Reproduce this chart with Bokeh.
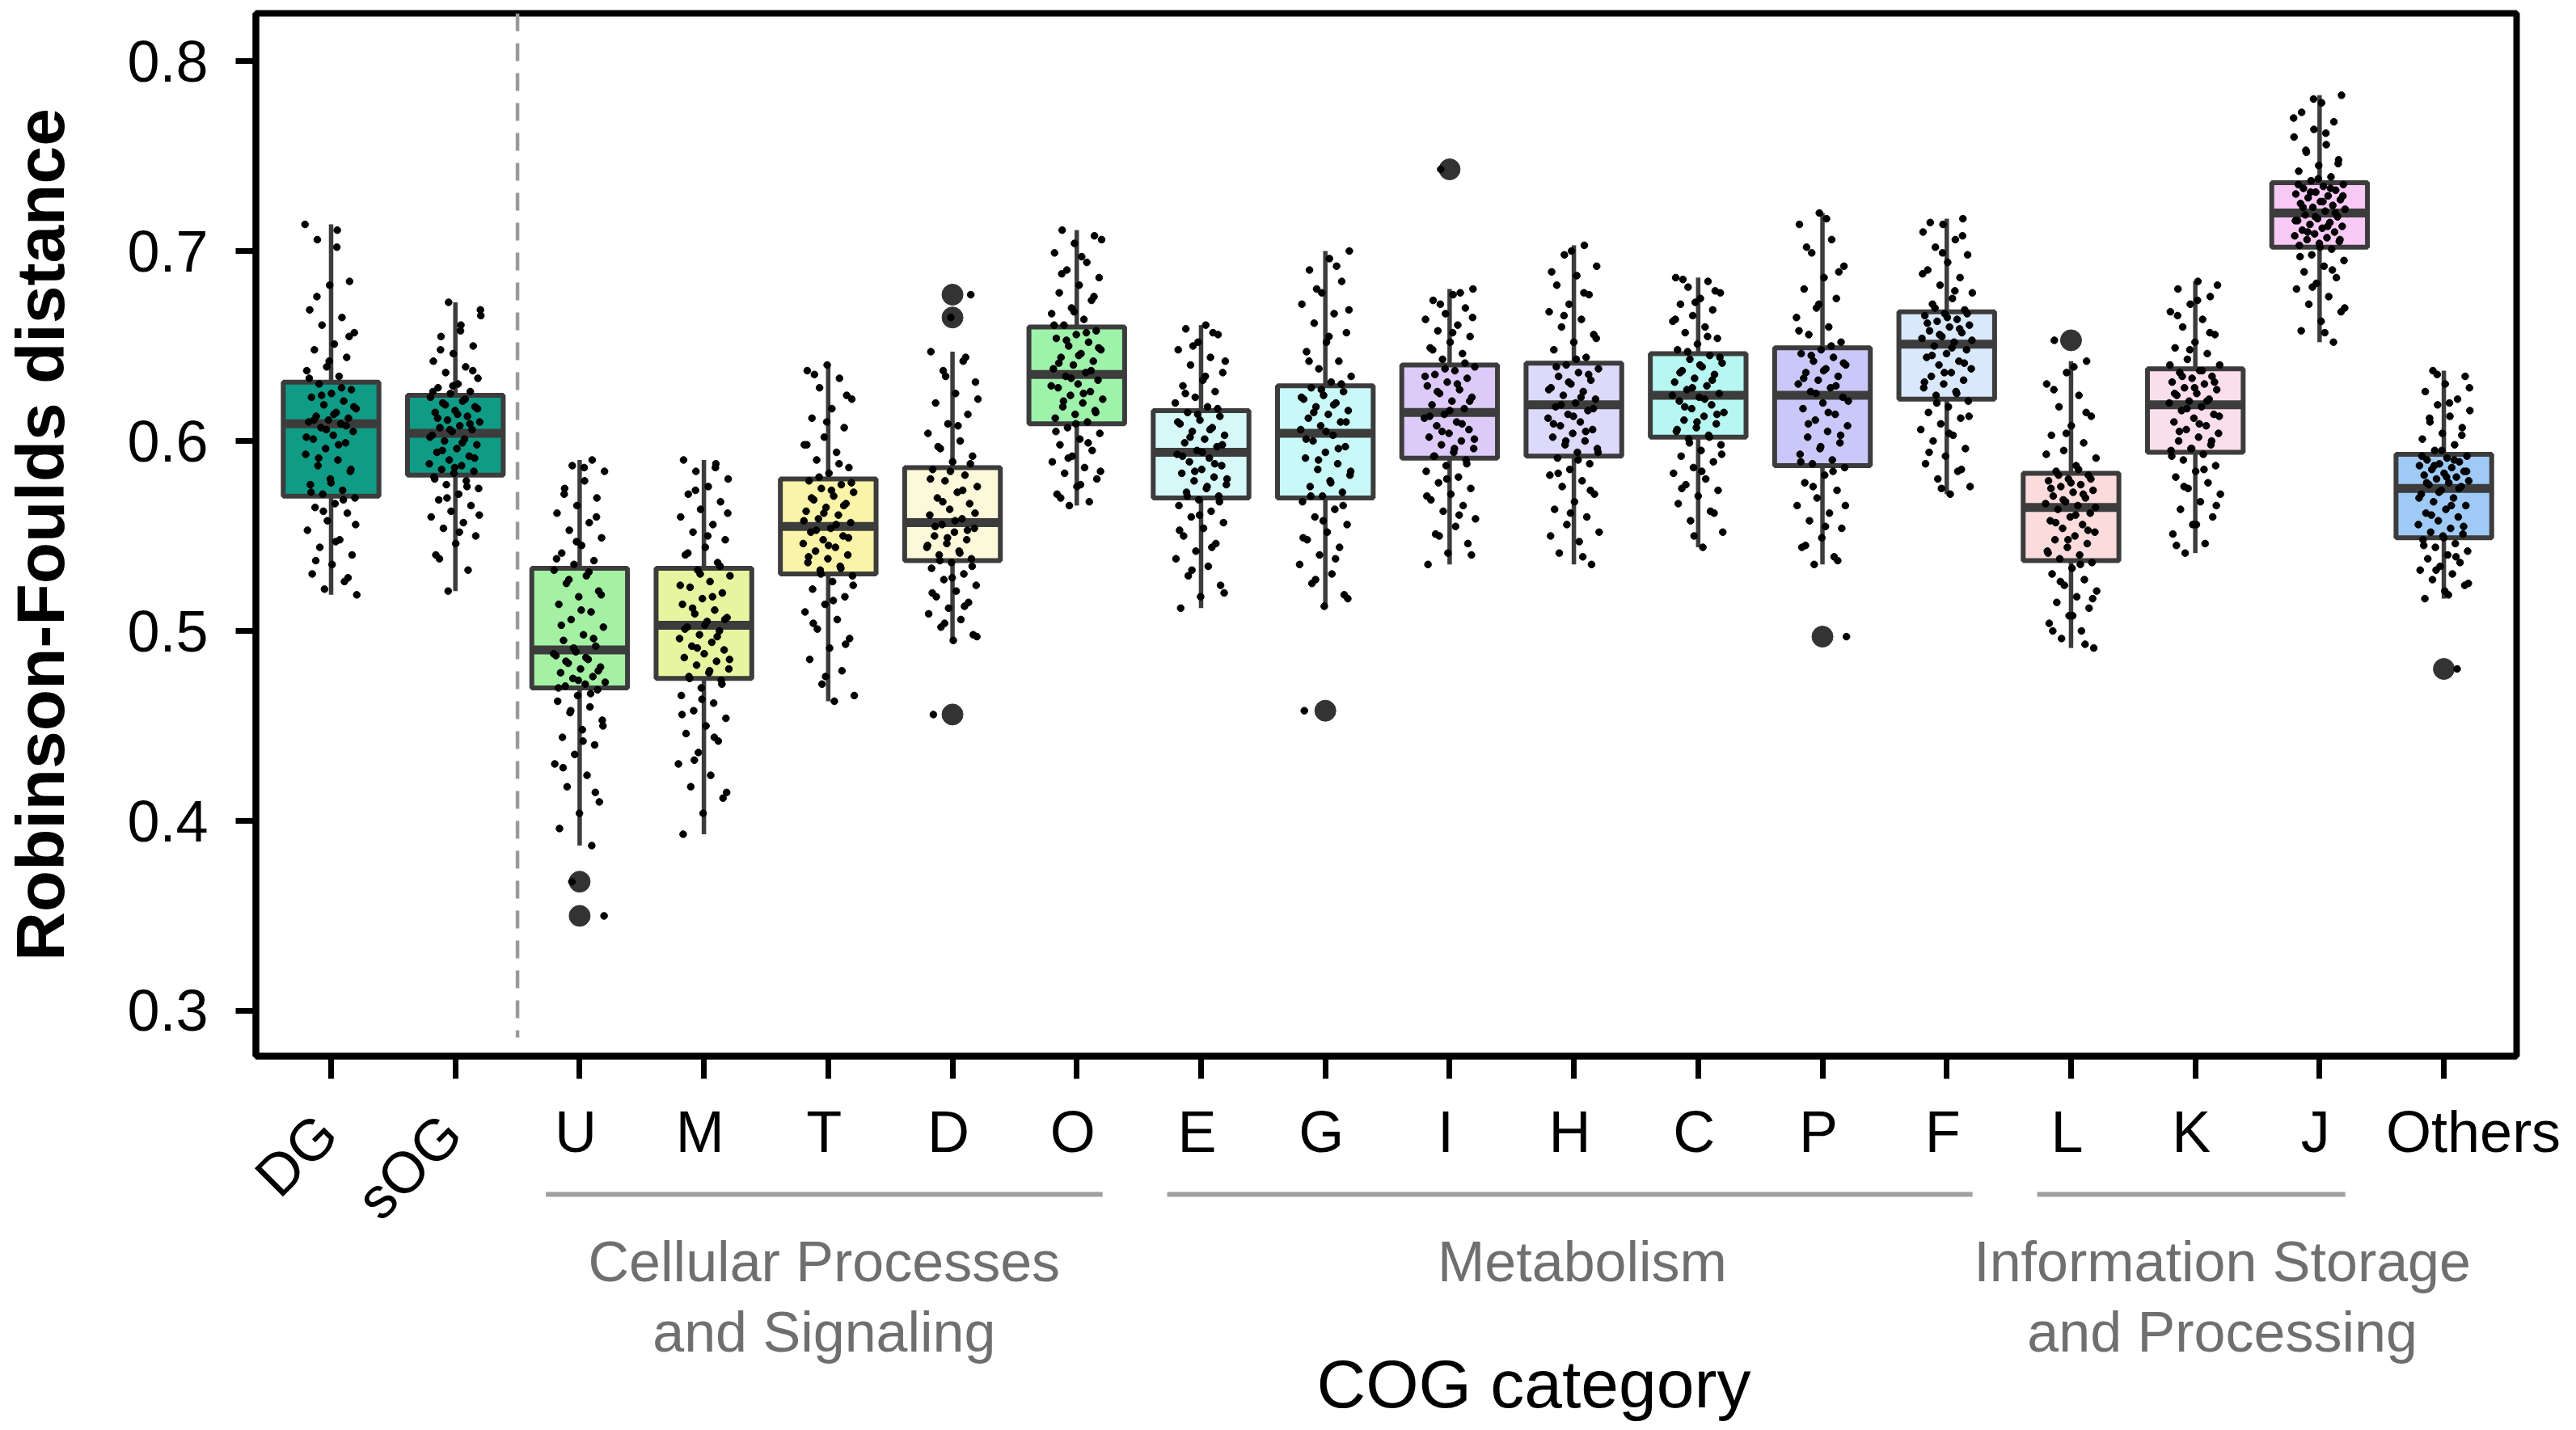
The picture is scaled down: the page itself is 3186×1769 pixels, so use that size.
import numpy as np
from bokeh.plotting import figure
from bokeh.layouts import column
from bokeh.models import FixedTicker, Range1d
from bokeh.core.properties import value
from bokeh.embed import file_html
from bokeh.resources import INLINE

# ---------------- data ----------------
categories = ["DG", "sOG", "U", "M", "T", "D", "O", "E", "G", "I", "H", "C",
              "P", "F", "L", "K", "J", "Others"]
colors = ["#0f9b85", "#0f9b85", "#a4f1a4", "#e7f5a1", "#faf4a8", "#fcf9da",
          "#9ef2aa", "#d6f8f8", "#c9f8f8", "#ddcaf9", "#dcd9fb", "#b6f7f2",
          "#cac7f9", "#d9e8fb", "#fbdbdb", "#fbdeeb", "#f9c9f6", "#9ecaf5"]

whisk_lo = [0.519, 0.521, 0.387, 0.393, 0.463, 0.495, 0.566, 0.512, 0.513,
            0.535, 0.535, 0.544, 0.535, 0.572, 0.491, 0.541, 0.652, 0.517]
q1 = [0.571, 0.582, 0.470, 0.475, 0.530, 0.537, 0.609, 0.570, 0.570,
      0.591, 0.592, 0.602, 0.587, 0.622, 0.537, 0.594, 0.702, 0.549]
med = [0.609, 0.604, 0.490, 0.503, 0.555, 0.557, 0.635, 0.594, 0.604,
       0.615, 0.619, 0.624, 0.624, 0.651, 0.565, 0.619, 0.720, 0.575]
q3 = [0.631, 0.624, 0.533, 0.533, 0.580, 0.586, 0.660, 0.616, 0.629,
      0.640, 0.641, 0.646, 0.649, 0.668, 0.583, 0.638, 0.736, 0.593]
whisk_hi = [0.714, 0.673, 0.590, 0.590, 0.640, 0.647, 0.711, 0.661, 0.700,
            0.680, 0.703, 0.686, 0.720, 0.717, 0.642, 0.684, 0.782, 0.637]

outlier_cat = ["U", "U", "D", "D", "D", "G", "I", "P", "L", "Others"]
outlier_val = [0.368, 0.350, 0.677, 0.665, 0.456, 0.458, 0.743, 0.497, 0.653, 0.480]

# individual values (thousandths) per category, estimated from the strip points
pts_DG = [714, 711, 706, 684, 682, 669, 665, 661, 657, 651, 648, 644, 639, 637, 634,
          630, 627, 625, 623, 621, 619, 617, 615, 613, 612, 611, 610,
          609, 607, 605, 603, 601, 599, 596, 593, 590, 587, 584, 580, 577, 574, 572,
          570, 567, 565, 562, 558, 553, 548, 544, 540, 535, 530, 526, 522, 519,
          702, 676, 655, 642, 633, 628, 624, 618, 614, 611, 608, 606, 602, 598, 591,
          585, 578, 573, 569, 563, 556, 547, 537, 528]
pts_sOG = [673, 666, 661, 655, 650, 646, 642, 639, 636, 633, 630, 628, 626, 625,
           623, 621, 620, 618, 616, 615, 613, 611, 610, 608, 607, 606, 605,
           603, 601, 600, 598, 596, 594, 592, 590, 588, 587, 585, 584, 583,
           581, 579, 577, 575, 572, 569, 566, 563, 560, 557, 554, 550, 546, 540, 532, 521,
           669, 658, 648, 637, 629, 626, 622, 619, 617, 614, 612, 609, 606, 602, 599,
           595, 591, 586, 580, 576, 570, 561, 552, 538]
pts_U = [590, 587, 584, 579, 575, 570, 566, 562, 557, 553, 549, 545, 541, 537, 535,
         532, 529, 525, 521, 518, 514, 510, 506, 502, 498, 495, 492,
         489, 487, 485, 483, 481, 480, 478, 476, 475, 473, 472, 471,
         469, 466, 463, 460, 457, 453, 448, 444, 440, 435, 430, 424, 418, 410, 404,
         396, 387, 368, 350,
         586, 572, 560, 547, 538, 531, 527, 519, 511, 503, 496, 491, 488, 486, 484,
         479, 474, 470, 467, 458, 450, 442, 428, 415]
pts_M = [590, 588, 584, 580, 576, 572, 568, 564, 560, 556, 552, 548, 544, 540, 536,
         532, 529, 526, 523, 520, 517, 514, 511, 509, 507, 505,
         502, 500, 498, 496, 494, 492, 490, 488, 486, 484, 482, 480, 478, 476,
         474, 470, 466, 462, 458, 454, 450, 446, 442, 436, 430, 424, 418, 412, 404, 393,
         586, 574, 562, 550, 541, 534, 530, 524, 518, 512, 506, 503, 501, 497, 491,
         485, 479, 475, 472, 464, 456, 444, 432, 415]
pts_T = [640, 637, 633, 628, 622, 617, 612, 607, 602, 598, 594, 590, 586, 583,
         579, 577, 575, 573, 571, 569, 567, 565, 563, 561, 559, 557,
         554, 552, 550, 548, 546, 544, 542, 540, 538, 536, 534, 532,
         529, 526, 522, 518, 514, 510, 506, 501, 496, 491, 485, 479, 472, 466, 463,
         635, 624, 610, 598, 588, 581, 578, 574, 570, 566, 562, 558, 556, 553, 549,
         545, 539, 533, 530, 524, 516, 504, 493, 476]
pts_D = [677, 665, 647, 642, 637, 631, 625, 620, 614, 609, 604, 600, 596, 592, 589,
         585, 582, 579, 576, 573, 570, 567, 564, 561, 559,
         556, 554, 552, 550, 548, 546, 544, 542, 540, 538,
         536, 533, 530, 527, 524, 521, 518, 515, 512, 509, 506, 502, 498, 495, 456,
         644, 634, 622, 608, 597, 588, 584, 580, 574, 568, 562, 558, 555, 553, 549,
         545, 541, 537, 534, 528, 520, 513, 504, 497]
pts_O = [711, 708, 704, 699, 694, 690, 686, 682, 678, 674, 670, 667, 664, 661,
         658, 656, 654, 652, 650, 648, 646, 644, 642, 640, 638, 636,
         634, 632, 630, 628, 626, 624, 622, 620, 618, 616, 614, 612, 610,
         607, 604, 601, 598, 595, 592, 589, 586, 583, 580, 576, 572, 568, 566,
         706, 697, 688, 676, 668, 661, 657, 653, 649, 645, 641, 637, 633, 629, 625,
         621, 615, 609, 605, 599, 591, 584, 577, 570]
pts_E = [661, 659, 656, 652, 648, 644, 640, 636, 632, 629, 626, 623, 620, 618,
         615, 613, 611, 609, 607, 605, 603, 601, 599, 597, 595,
         593, 591, 589, 587, 585, 583, 581, 579, 577, 575, 573, 571,
         569, 566, 563, 560, 557, 554, 550, 546, 542, 538, 534, 529, 524, 518, 512,
         657, 650, 642, 634, 625, 617, 614, 610, 606, 602, 598, 594, 592, 588, 584,
         580, 576, 571, 568, 561, 553, 544, 532, 520]
pts_G = [700, 696, 690, 684, 678, 672, 667, 662, 657, 652, 647, 642, 638, 634, 631,
         628, 626, 624, 622, 620, 618, 616, 614, 612, 610, 608, 606,
         603, 600, 597, 594, 591, 588, 585, 582, 579, 576, 573, 571,
         568, 564, 560, 556, 552, 548, 544, 540, 535, 530, 525, 519, 513, 458,
         692, 680, 669, 655, 642, 630, 627, 623, 619, 615, 610, 605, 601, 596, 590,
         584, 578, 571, 566, 558, 549, 538, 527, 517]
pts_I = [743, 680, 677, 674, 670, 667, 664, 661, 658, 655, 652, 649, 646, 643,
         639, 637, 635, 633, 631, 629, 627, 625, 623, 621, 619, 617,
         614, 612, 610, 608, 606, 604, 602, 600, 598, 596, 594, 592,
         590, 587, 584, 581, 578, 575, 572, 569, 566, 563, 559, 555, 551, 546, 541, 535,
         678, 672, 665, 657, 648, 641, 638, 634, 630, 626, 621, 616, 613, 609, 605,
         601, 596, 592, 588, 580, 571, 561, 550, 540]
pts_H = [703, 698, 692, 687, 682, 677, 672, 668, 664, 660, 656, 652, 648, 644,
         640, 638, 636, 634, 632, 630, 628, 626, 624, 622, 620,
         618, 616, 614, 612, 610, 608, 606, 604, 602, 600, 598, 596, 594,
         591, 588, 585, 582, 579, 576, 572, 568, 564, 560, 556, 552, 547, 541, 535,
         700, 689, 678, 666, 654, 643, 639, 635, 631, 627, 623, 619, 617, 613, 609,
         605, 600, 594, 590, 583, 574, 562, 550, 539]
pts_C = [686, 684, 681, 678, 675, 672, 669, 666, 663, 660, 657, 654, 651, 648,
         645, 643, 641, 639, 637, 635, 633, 631, 629, 627, 625,
         623, 621, 619, 617, 615, 613, 611, 609, 607, 605, 603,
         601, 598, 595, 592, 589, 586, 583, 580, 577, 574, 571, 567, 563, 558, 552, 544,
         685, 679, 673, 664, 655, 647, 644, 640, 636, 632, 628, 624, 622, 618, 614,
         610, 606, 602, 599, 593, 584, 575, 562, 550]
pts_P = [720, 714, 706, 699, 692, 686, 680, 675, 670, 665, 660, 656, 652,
         648, 646, 644, 642, 640, 638, 636, 634, 632, 630, 628, 626,
         623, 620, 617, 614, 611, 608, 605, 602, 599, 596, 593, 590, 588,
         586, 582, 578, 574, 570, 566, 562, 558, 554, 549, 544, 539, 535, 497,
         717, 702, 689, 672, 658, 650, 645, 641, 637, 633, 629, 625, 621, 615, 609,
         603, 597, 589, 584, 576, 566, 555, 545, 537]
pts_F = [717, 714, 710, 706, 702, 698, 694, 690, 686, 682, 678, 675, 672, 669,
         667, 666, 664, 663, 661, 660, 658, 657, 655, 654, 652,
         650, 648, 646, 644, 642, 640, 638, 636, 634, 632, 630, 628, 626, 624,
         621, 618, 615, 612, 609, 606, 603, 600, 596, 592, 588, 584, 580, 576, 572,
         715, 708, 699, 688, 679, 670, 667, 665, 662, 659, 656, 653, 649, 645, 641,
         636, 631, 625, 620, 613, 604, 594, 585, 575]
pts_L = [653, 642, 636, 630, 624, 618, 613, 608, 603, 599, 595, 591, 587, 584,
         582, 580, 579, 577, 576, 574, 573, 571, 570, 568, 567, 566,
         564, 562, 560, 558, 556, 554, 552, 550, 548, 546, 544, 542, 540, 538,
         536, 533, 530, 527, 524, 521, 518, 515, 512, 508, 504, 500, 496, 491,
         639, 627, 615, 604, 593, 585, 582, 580, 578, 575, 572, 569, 565, 561, 557,
         553, 548, 541, 535, 526, 517, 508, 500, 493]
pts_K = [684, 680, 676, 672, 668, 664, 660, 656, 652, 649, 646, 643, 640,
         637, 636, 634, 633, 631, 630, 628, 627, 625, 624, 622, 621, 620,
         618, 616, 614, 612, 610, 608, 606, 604, 602, 600, 598, 596, 595,
         593, 590, 587, 584, 581, 578, 575, 572, 568, 564, 560, 556, 551, 546, 541,
         682, 674, 666, 657, 648, 640, 637, 634, 631, 628, 625, 621, 617, 613, 609,
         605, 600, 596, 592, 585, 576, 566, 556, 545]
pts_J = [782, 778, 773, 768, 764, 760, 756, 752, 748, 745, 742, 739, 737,
         735, 734, 733, 732, 731, 730, 729, 728, 727, 726, 725, 724, 723, 722, 721,
         719, 718, 717, 716, 715, 714, 713, 712, 711, 710, 709, 708, 707, 706, 705,
         704, 703, 701, 698, 695, 692, 689, 686, 683, 680, 676, 672, 668, 663, 658, 652,
         780, 770, 762, 753, 746, 738, 735, 733, 731, 729, 726, 723, 720, 718, 716,
         713, 710, 706, 702, 697, 690, 681, 670, 657]
pts_Others = [637, 634, 630, 626, 622, 619, 616, 613, 610, 607, 604, 601, 598, 595,
              592, 591, 590, 589, 588, 587, 586, 585, 584, 583, 582, 581, 580, 579,
              578, 577, 576, 574, 572, 570, 568, 566, 564, 562, 560, 558, 556, 554,
              552, 551, 550, 548, 546, 544, 542, 540, 538, 536, 534, 532, 530, 527,
              524, 521, 517, 480,
              635, 628, 620, 612, 603, 595, 592, 590, 587, 584, 581, 578, 575, 573, 570,
              566, 561, 555, 549, 545, 539, 532, 525, 519]

points = [pts_DG, pts_sOG, pts_U, pts_M, pts_T, pts_D, pts_O, pts_E, pts_G, pts_I,
          pts_H, pts_C, pts_P, pts_F, pts_L, pts_K, pts_J, pts_Others]

y_ticks = [0.3, 0.4, 0.5, 0.6, 0.7, 0.8]
rotated_labels = ["DG", "sOG"]
group_line1 = ["Cellular Processes", "Metabolism", "Information Storage"]
group_line2 = ["and Signaling", "", "and Processing"]
group_first = ["U", "E", "L"]
group_last = ["O", "F", "J"]

# ---------------- layout constants (page pixels) ----------------
FONT = "Liberation Sans"
W = 3170
LEFT, RIGHT = 311, 63
FW, FH = W - LEFT - RIGHT, 1290
TOP, A_BOTTOM = 16, 40
A_H = TOP + FH + A_BOTTOM
B_H = 418
Y0, Y1 = 0.27617, 0.82511
X0, X1 = -0.605, 17.585


def no_align(fig):
    try:
        fig.frame_align = False
    except Exception:
        pass


# ---------------- main chart ----------------
p = figure(frame_width=FW, frame_height=FH,
           x_range=Range1d(X0, X1), y_range=Range1d(Y0, Y1),
           output_backend="svg", toolbar_location=None,
           min_border_left=LEFT, min_border_right=RIGHT,
           min_border_top=TOP, min_border_bottom=A_BOTTOM)
no_align(p)
p.xgrid.visible = False
p.ygrid.visible = False
p.outline_line_color = "black"
p.outline_line_width = 8
p.outline_line_alpha = 1.0
p.background_fill_color = "white"
p.border_fill_color = "white"

idx = {c: i for i, c in enumerate(categories)}
xs = list(range(len(categories)))
BW = 0.77
EDGE = "#3c3c3c"

# whiskers
p.segment(x0=xs, y0=q3, x1=xs, y1=whisk_hi, line_color=EDGE, line_width=5.5)
p.segment(x0=xs, y0=q1, x1=xs, y1=whisk_lo, line_color=EDGE, line_width=5.5)
# boxes
p.vbar(x=xs, width=BW, top=q3, bottom=q1, fill_color=colors,
       line_color=EDGE, line_width=6)
# medians
p.segment(x0=[x - BW / 2 for x in xs], y0=med, x1=[x + BW / 2 for x in xs], y1=med,
          line_color=EDGE, line_width=11)
# fliers
p.scatter(x=[idx[c] for c in outlier_cat], y=outlier_val, size=26,
          fill_color="#333333", line_color="#333333")

# strip points (deterministic low-discrepancy jitter)
sx, sy = [], []
for i, vals in enumerate(points):
    for k, v in enumerate(vals):
        off = ((k * 0.6180339887 + i * 0.37) % 1.0 - 0.5) * 0.42
        sx.append(i + off)
        sy.append(v / 1000.0)
p.scatter(x=sx, y=sy, size=8.5, fill_color="black", line_color="black")

# separator between the reference sets and the COG categories
sep_bottom = Y1 - (1283 - TOP) * (Y1 - Y0) / FH
p.segment(x0=[1.5], y0=[Y1], x1=[1.5], y1=[sep_bottom], line_color="#9a9a9a",
          line_width=4.5, line_dash="22 15")

# axes
yax = p.yaxis[0]
yax.ticker = FixedTicker(ticks=y_ticks)
yax.major_label_overrides = {t: f"{t:.1f}" for t in y_ticks}
yax.minor_tick_line_color = None
yax.major_tick_in = 0
yax.major_tick_out = 25
yax.major_tick_line_width = 7
yax.axis_line_width = 8
yax.major_label_standoff = 34
yax.major_label_text_font = FONT
yax.major_label_text_font_size = "72px"
yax.major_label_text_color = "black"
yax.axis_label = "Robinson-Foulds distance"
yax.axis_label_text_font = FONT
yax.axis_label_text_font_size = "84px"
yax.axis_label_text_font_style = "bold"
yax.axis_label_text_color = "black"
yax.axis_label_standoff = 57

xax = p.xaxis[0]
xax.ticker = FixedTicker(ticks=xs)
xax.major_label_overrides = {i: "" for i in xs}
xax.minor_tick_line_color = None
xax.major_tick_in = 0
xax.major_tick_out = 28
xax.major_tick_line_width = 7
xax.axis_line_width = 8
xax.major_label_standoff = 0
xax.major_label_text_font_size = "1px"

# ---------------- strip under the chart: tick names, groups, axis title ----------------
# same left edge and same x scale as the chart; extends a little further right
upp = (X1 - X0) / FW
q = figure(frame_width=FW + RIGHT, frame_height=B_H,
           x_range=Range1d(X0, X1 + RIGHT * upp),
           y_range=Range1d(-(A_H + B_H), -A_H),
           x_axis_type=None, y_axis_type=None,
           output_backend="svg", toolbar_location=None,
           min_border_left=LEFT, min_border_right=0, min_border_top=0, min_border_bottom=0)
no_align(q)
q.xgrid.visible = False
q.ygrid.visible = False
q.outline_line_color = None
q.background_fill_color = "white"
q.border_fill_color = "white"

flat = [c for c in categories if c not in rotated_labels]
flat_x = [idx[c] + (0.27 if c == "Others" else 0.0) for c in flat]
q.text(x=flat_x, y=[-1399] * len(flat), text=flat,
       text_font=value(FONT), text_font_size=value("72px"), text_color="black",
       text_align="center", text_baseline="alphabetic")
q.text(x=[idx[c] for c in rotated_labels], y=[-1390] * len(rotated_labels),
       text=rotated_labels, angle=np.pi / 4,
       text_font=value(FONT), text_font_size=value("72px"), text_color="black",
       text_align="right", text_baseline="middle")

ga = [idx[a] - 0.24 for a in group_first]
gb = [idx[b] + 0.24 for b in group_last]
q.segment(x0=ga, y0=[-1477] * 3, x1=gb, y1=[-1477] * 3, line_color="#a0a0a0",
          line_width=6)
gc = [(idx[a] + idx[b]) / 2 for a, b in zip(group_first, group_last)]
gc = [gc[0], gc[1] + 0.1, gc[2] + 0.25]
q.text(x=gc, y=[-1560] * 3, text=group_line1,
       text_font=value(FONT), text_font_size=value("70px"), text_color="#6f6f6f",
       text_align="center", text_baseline="alphabetic")
q.text(x=gc, y=[-1647] * 3, text=group_line2,
       text_font=value(FONT), text_font_size=value("70px"), text_color="#6f6f6f",
       text_align="center", text_baseline="alphabetic")
q.text(x=[9.71], y=[-1711], text=["COG category"],
       text_font=value(FONT), text_font_size=value("84px"), text_color="black",
       text_align="center", text_baseline="alphabetic")

layout = column(p, q, spacing=0)
open("out.html", "w").write(file_html(layout, INLINE))
